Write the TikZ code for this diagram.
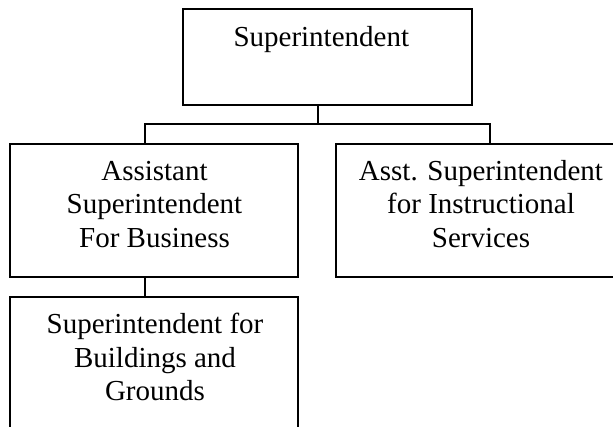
\documentclass[tikz,border=0pt]{standalone}
\usepackage{fontspec}
\setmainfont{Liberation Serif}
\begin{document}
\begin{tikzpicture}[x=1pt,y=-1pt,
  box/.style={draw=black,line width=1.4pt,rectangle,inner sep=0pt,outer sep=0pt},
  txt/.style={align=center,anchor=base,inner sep=0pt,font=\fontsize{29}{33.5}\selectfont},
  link/.style={draw=black,line width=1.4pt}]
\useasboundingbox (0,0) rectangle (613,426);
\clip (0,0) rectangle (613,426);
% boxes
\node[box,minimum width=289pt,minimum height=96pt] (top) at (327.5,57) {};
\node[box,minimum width=288pt,minimum height=133pt] (left) at (154,210.5) {};
\node[box,minimum width=290pt,minimum height=133pt] (right) at (481,210.5) {};
\node[box,minimum width=288pt,minimum height=160pt] (bot) at (154,377) {};
% texts
\node[txt] (topT) at (321.3,46) {Superintendent};
\node[txt] (leftT) at (154.5,247) {Assistant\\Superintendent\\For Business};
\node[txt] (rightT) at (481,247) {Asst. Superintendent\\for Instructional\\Services};
\node[txt] (botT) at (155,400.7) {Superintendent for\\Buildings and\\Grounds};
% connectors
\coordinate (j) at (318,124);
\coordinate (jl) at (145,124);
\coordinate (jr) at (490,124);
\draw[link] (top.south -| j) -- (j);
\draw[link] (jl |- left.north) -- (jl) -- (jr) -- (jr |- right.north);
\draw[link] (jl |- left.south) -- (jl |- bot.north);
\end{tikzpicture}
\end{document}
